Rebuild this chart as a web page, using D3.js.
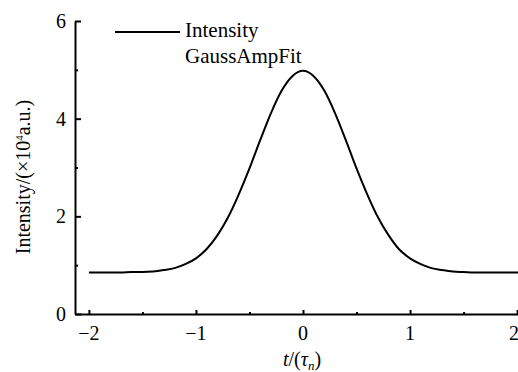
<!DOCTYPE html>
<html>
<head>
<title>Intensity profile</title>
<style>
  body { margin: 0; background: #fff; }
  #chart { position: relative; width: 518px; height: 372px; overflow: hidden; }
  #chart svg { position: absolute; left: 0; top: 0; }
  .axis path, .axis line { stroke: #000; stroke-width: 2; }
  .lab {
    position: absolute;
    font-family: "Liberation Serif", "Times New Roman", serif;
    font-size: 20px;
    line-height: 20px;
    color: #000;
    white-space: nowrap;
  }
</style>
</head>
<body>
<div id="chart"></div>
<script src="https://cdnjs.cloudflare.com/ajax/libs/d3/7.8.5/d3.min.js"></script>
<script>
var tValues = [-2.0, -1.9, -1.8, -1.7, -1.6, -1.5, -1.4, -1.3, -1.2, -1.1, -1.0,
               -0.9, -0.8, -0.7, -0.6, -0.5, -0.4, -0.3, -0.2, -0.1, 0.0,
               0.1, 0.2, 0.3, 0.4, 0.5, 0.6, 0.7, 0.8, 0.9, 1.0,
               1.1, 1.2, 1.3, 1.4, 1.5, 1.6, 1.7, 1.8, 1.9, 2.0, 2.1];
var intensity = [0.85, 0.85, 0.85, 0.85, 0.86, 0.86, 0.87, 0.90, 0.94, 1.02, 1.14,
                 1.33, 1.61, 1.98, 2.45, 2.98, 3.56, 4.11, 4.57, 4.87, 4.98,
                 4.87, 4.57, 4.11, 3.56, 2.98, 2.45, 1.98, 1.61, 1.32, 1.14,
                 1.02, 0.94, 0.90, 0.87, 0.86, 0.85, 0.85, 0.85, 0.85, 0.85, 0.85];
var xTicks = [-2, -1, 0, 1, 2];
var xMinor = [-1.5, -0.5, 0.5, 1.5];
var yTicks = [0, 2, 4, 6];
var yMinor = [1, 3, 5];
var legendLabels = ["Intensity", "GaussAmpFit"];

var width = 518, height = 372;

var x = d3.scaleLinear().domain([-2.13, 2.13]).range([75, 531]);
var y = d3.scaleLinear().domain([0, 6]).range([314, 21]);

var chart = d3.select("#chart");
var svg = chart.append("svg")
  .attr("width", width)
  .attr("height", height);

// minor ticks first so the main axis line sits on top
svg.append("g")
  .attr("class", "axis")
  .attr("transform", "translate(0,314)")
  .call(d3.axisBottom(x).tickValues(xMinor).tickSize(-2).tickFormat(""))
  .select(".domain").remove();

svg.append("g")
  .attr("class", "axis")
  .attr("transform", "translate(75,0)")
  .call(d3.axisLeft(y).tickValues(yMinor).tickSize(-3).tickFormat(""))
  .select(".domain").remove();

svg.append("g")
  .attr("class", "axis")
  .attr("transform", "translate(0,314)")
  .call(d3.axisBottom(x).tickValues(xTicks).tickFormat("")
    .tickSizeInner(-4).tickSizeOuter(0));

svg.append("g")
  .attr("class", "axis")
  .attr("transform", "translate(75,0)")
  .call(d3.axisLeft(y).tickValues(yTicks).tickFormat("")
    .tickSizeInner(-6).tickSizeOuter(0));

// curve
var line = d3.line()
  .x(function(d, i) { return x(tValues[i]); })
  .y(function(d) { return y(d); })
  .curve(d3.curveMonotoneX);

svg.append("path")
  .datum(intensity)
  .attr("fill", "none")
  .attr("stroke", "#000")
  .attr("stroke-width", 2)
  .attr("d", line);

// legend line
svg.append("line")
  .attr("x1", 115).attr("x2", 180)
  .attr("y1", 32).attr("y2", 32)
  .attr("stroke", "#000").attr("stroke-width", 2);

// text is laid over the svg as html so the serif face is used
var fmt = d3.format("d");

chart.selectAll(".ylab")
  .data(yTicks)
  .enter().append("div")
  .attr("class", "lab ylab")
  .style("left", "0px")
  .style("width", "66px")
  .style("text-align", "right")
  .style("top", function(d) { return (y(d) - 10) + "px"; })
  .text(fmt);

chart.selectAll(".xlab")
  .data(xTicks)
  .enter().append("div")
  .attr("class", "lab xlab")
  .style("width", "40px")
  .style("text-align", "center")
  .style("left", function(d) { return (x(d) - 20 - (d === 2 ? 3 : 0)) + "px"; })
  .style("top", "323px")
  .text(fmt);

chart.selectAll(".legend")
  .data(legendLabels)
  .enter().append("div")
  .attr("class", "lab legend")
  .style("left", "185px")
  .style("top", function(d, i) { return (20 + i * 26) + "px"; })
  .style("font-size", "21px")
  .style("line-height", "21px")
  .text(function(d) { return d; });

chart.append("div")
  .attr("class", "lab")
  .style("left", (21 - 150) + "px")
  .style("top", (175 - 10) + "px")
  .style("width", "300px")
  .style("text-align", "center")
  .style("transform", "rotate(-90deg)")
  .html("Intensity/(×10<span style=\"font-size:11px;vertical-align:7px\">4</span>a.u.)");

chart.append("div")
  .attr("class", "lab")
  .style("left", (302 - 100) + "px")
  .style("top", "349px")
  .style("width", "200px")
  .style("text-align", "center")
  .html("<i>t</i>/(<i>τ</i><i style=\"font-size:13px;vertical-align:-4px\">n</i>)");
</script>
</body>
</html>
